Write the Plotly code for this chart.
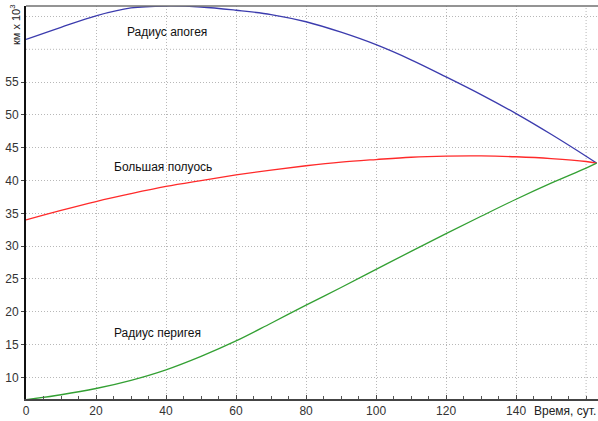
import plotly.graph_objects as go

# Time, days
days = [0, 10, 20, 30, 40, 50, 60, 70, 80, 90, 100, 110, 120, 130, 140, 150, 160, 163]

# Orbit parameters, thousands of km
apogee = [61.5, 63.35, 65.1, 66.3, 66.6, 66.45, 65.95, 65.3, 64.2, 62.6, 60.7, 58.4,
          55.8, 53.1, 50.2, 47.05, 43.7, 42.65]
semi_major = [34.0, 35.45, 36.8, 38.0, 39.1, 40.0, 40.85, 41.6, 42.25, 42.8, 43.2, 43.55,
              43.72, 43.75, 43.62, 43.35, 42.9, 42.65]
perigee = [6.6, 7.35, 8.3, 9.55, 11.15, 13.2, 15.55, 18.25, 21.0, 23.7, 26.45, 29.2,
           31.9, 34.55, 37.15, 39.6, 41.9, 42.65]

series_names = ["Радиус апогея", "Большая полуось", "Радиус перигея"]
series_colors = ["#3c3cae", "#ff2a2a", "#33a033"]

x_ticks = [0, 20, 40, 60, 80, 100, 120, 140]
y_ticks = [10, 15, 20, 25, 30, 35, 40, 45, 50, 55]
# grid lines drawn without a tick label (their label space holds the axis titles)
x_extra_grid = [160]
y_extra_grid = [60, 65]

x_title = "Время, сут."
y_title = "км x 10<sup>3</sup>"

# label anchor points (days, thousand km)
label_pos = [(40.3, 62.65), (39.1, 42.1), (37.7, 16.72)]

FONT = "Arial, Liberation Sans, sans-serif"
GRID = dict(color="#b8b8b8", width=1, dash="1px,2px")

fig = go.Figure()
for name, ys, col in zip(series_names, [apogee, semi_major, perigee], series_colors):
    fig.add_trace(go.Scatter(
        x=days, y=ys, mode="lines", name=name,
        line=dict(color=col, width=1.3, shape="spline", smoothing=1.0),
        showlegend=False,
    ))

for name, (lx, ly) in zip(series_names, label_pos):
    fig.add_annotation(x=lx, y=ly, text=name, showarrow=False,
                       font=dict(family=FONT, size=12, color="#111111"),
                       xanchor="center", yanchor="middle")

# axis titles
fig.add_annotation(xref="paper", yref="paper", x=1.0, y=0, yshift=-12,
                   text=x_title, showarrow=False, xanchor="right", yanchor="middle",
                   font=dict(family=FONT, size=12, color="#222222"))
fig.add_annotation(xref="paper", yref="paper", x=-11 / 572, y=0.9517,
                   text=y_title, showarrow=False, textangle=-90,
                   xanchor="center", yanchor="middle",
                   font=dict(family=FONT, size=11, color="#222222"))

for gx in x_extra_grid:
    fig.add_shape(type="line", xref="x", yref="paper", x0=gx, x1=gx, y0=0, y1=1,
                  line=GRID, layer="below")
for gy in y_extra_grid:
    fig.add_shape(type="line", xref="paper", yref="y", x0=0, x1=1, y0=gy, y1=gy,
                  line=GRID, layer="below")

# top frame line
fig.add_shape(type="line", xref="paper", yref="paper", x0=0, x1=1, y0=1, y1=1,
              line=dict(color="#707070", width=1.5))

fig.update_xaxes(
    range=[0, 163.4], tickvals=x_ticks,
    showline=True, linecolor="#444444", linewidth=2,
    ticks="inside", ticklen=4, tickcolor="#444444",
    showgrid=True, gridcolor=GRID["color"], gridwidth=1, griddash=GRID["dash"],
    minor=dict(dtick=5, tick0=0, ticks="inside", ticklen=3, tickcolor="#555555", showgrid=False),
    zeroline=False,
    tickfont=dict(family=FONT, size=12, color="#333333"),
)
fig.update_yaxes(
    range=[6.7, 66.6], tickvals=y_ticks,
    showline=True, linecolor="#111111", linewidth=2,
    ticks="outside", ticklen=3, tickcolor="#444444",
    showgrid=True, gridcolor=GRID["color"], gridwidth=1, griddash=GRID["dash"],
    zeroline=False,
    tickfont=dict(family=FONT, size=12, color="#333333"),
)

fig.update_layout(
    width=598, height=421,
    margin=dict(l=26, r=0, t=6, b=22),
    paper_bgcolor="white", plot_bgcolor="white",
)

fig.write_html("out.html")
